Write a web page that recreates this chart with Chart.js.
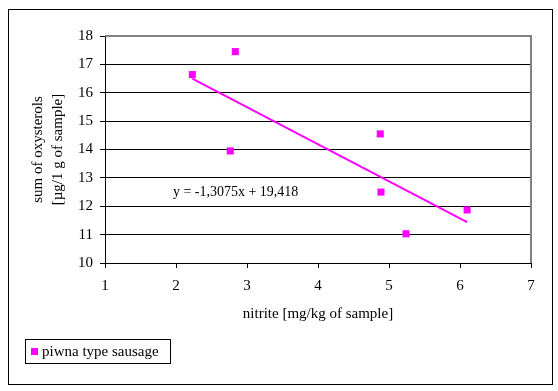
<!DOCTYPE html>
<html>
<head>
<meta charset="utf-8">
<script src="https://cdn.jsdelivr.net/npm/chart.js@4/dist/chart.umd.min.js"></script>
<style>
  html, body { margin: 0; padding: 0; background: #fff; }
  #wrap { width: 558px; height: 391px; }
</style>
</head>
<body>
<div id="wrap"><canvas id="c" width="558" height="391"></canvas></div>
<script>
// ---- data ----
const seriesLabel = 'piwna type sausage';
const nitrite = [2.23, 2.835, 2.765, 4.877, 4.887, 5.24, 6.10];
const oxysterols = [16.64, 17.45, 13.95, 14.55, 12.50, 11.03, 11.87];
const trendX = [2.23, 6.10];
const trendY = [16.50, 11.44];
const equationText = 'y = -1,3075x + 19,418';
const equationPos = [2.84, 12.48];
const xTitle = 'nitrite [mg/kg of sample]';
const yTitle = ['sum of oxysterols', '[\u00b5g/1 g of sample]'];
const xRange = [1, 7];
const yRange = [10, 18];

const FONT = '"Liberation Serif", "Times New Roman", serif';
const MAGENTA = '#FF00FF';

const pts = nitrite.map((x, i) => ({ x: x, y: oxysterols[i] }));
const trend = trendX.map((x, i) => ({ x: x, y: trendY[i] }));

const decor = {
  id: 'decor',
  afterDraw(chart) {
    const ctx = chart.ctx;
    const a = chart.chartArea;
    const xs = chart.scales.x, ys = chart.scales.y;
    ctx.save();
    // gray top/right plot border
    ctx.strokeStyle = '#808080';
    ctx.lineWidth = 2;
    ctx.beginPath();
    ctx.moveTo(a.left, a.top);
    ctx.lineTo(a.right, a.top);
    ctx.lineTo(a.right, a.bottom);
    ctx.stroke();
    // equation label
    ctx.fillStyle = '#000';
    ctx.font = '14px ' + FONT;
    ctx.textAlign = 'center';
    ctx.textBaseline = 'middle';
    ctx.fillText(equationText, xs.getPixelForValue(equationPos[0]), ys.getPixelForValue(equationPos[1]));
    // outer border
    ctx.strokeStyle = '#000';
    ctx.lineWidth = 1;
    ctx.strokeRect(8.5, 9.5, 544, 375);
    // legend box
    ctx.strokeRect(25.5, 339.5, 145, 24);
    ctx.fillStyle = MAGENTA;
    ctx.fillRect(31, 348, 7, 7);
    ctx.fillStyle = '#000';
    ctx.font = '15px ' + FONT;
    ctx.textAlign = 'left';
    ctx.fillText(seriesLabel, 42, 352);
    ctx.restore();
  }
};

new Chart(document.getElementById('c'), {
  type: 'scatter',
  data: {
    datasets: [
      {
        label: seriesLabel,
        data: pts,
        pointStyle: 'rect',
        pointRadius: 5,
        pointHoverRadius: 5,
        pointBorderWidth: 0,
        backgroundColor: MAGENTA,
        borderColor: MAGENTA,
        showLine: false,
        order: 1
      },
      {
        label: 'trend',
        data: trend,
        showLine: true,
        pointRadius: 0,
        borderColor: MAGENTA,
        borderWidth: 2,
        fill: false,
        order: 2
      }
    ]
  },
  options: {
    responsive: false,
    animation: false,
    devicePixelRatio: 1,
    layout: { padding: { top: 36, right: 27, bottom: 58, left: 0 } },
    plugins: { legend: { display: false }, tooltip: { enabled: false } },
    scales: {
      x: {
        type: 'linear',
        min: xRange[0], max: xRange[1],
        afterFit(s) { s.height = 70; },
        ticks: { stepSize: 1, color: '#000', padding: 9, font: { family: FONT, size: 15 } },
        grid: { drawOnChartArea: false, drawTicks: true, tickLength: 5, tickColor: '#000', color: '#000' },
        border: { display: true, color: '#000', width: 1 },
        title: { display: true, text: xTitle, color: '#000', font: { family: FONT, size: 15 }, padding: { top: 0, bottom: 10 } }
      },
      y: {
        type: 'linear',
        min: yRange[0], max: yRange[1],
        afterFit(s) { s.width = 105; },
        ticks: { stepSize: 1, color: '#000', padding: 7, font: { family: FONT, size: 15 } },
        grid: { drawOnChartArea: true, drawTicks: true, tickLength: 5, tickColor: '#000', color: '#000', lineWidth: 1 },
        border: { display: true, color: '#000', width: 1 },
        title: { display: true, text: yTitle, color: '#000', font: { family: FONT, size: 15, lineHeight: 1.33 }, padding: { top: 28, bottom: 0 } }
      }
    }
  },
  plugins: [decor]
});
</script>
</body>
</html>
